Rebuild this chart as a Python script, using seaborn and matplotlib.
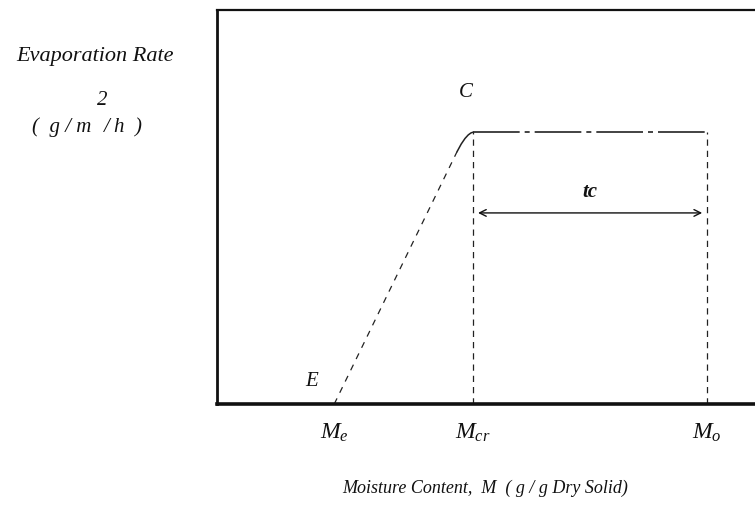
import matplotlib
matplotlib.use("Agg")
import matplotlib.pyplot as plt
import seaborn as sns
import pandas as pd

# Characteristic moisture contents (g/g dry solid), on a 0-1 schematic scale
moisture_marks = [0.218, 0.476, 0.911]
moisture_labels = [r"$M_e$", r"$M_{cr}$", r"$M_o$"]

# Falling-rate segment from E up to the critical point C (rounded knee)
falling_m = [0.218, 0.446, 0.454, 0.461, 0.467, 0.472, 0.476]
falling_rate = [0.0, 0.64, 0.66, 0.674, 0.683, 0.688, 0.69]

# Constant-rate period between M_cr and M_o
constant_m = [0.476, 0.911]
constant_rate = [0.69, 0.69]

arrow_level = 0.485

sns.set_theme(style="white")
plt.rcParams["font.family"] = ["Liberation Serif", "DejaVu Serif"]
plt.rcParams["mathtext.fontset"] = "custom"
plt.rcParams["mathtext.it"] = "Liberation Serif:italic"
plt.rcParams["mathtext.rm"] = "Liberation Serif"

fig = plt.figure(figsize=(7.55, 5.14), dpi=100)
ax = fig.add_axes([0.2874, 0.214, 0.7126, 0.7665])

falling = pd.DataFrame({"M": falling_m, "rate": falling_rate})
constant = pd.DataFrame({"M": constant_m, "rate": constant_rate})

sns.lineplot(data=falling.iloc[:2], x="M", y="rate", sort=False, ax=ax,
             color="#222222", lw=0.9, linestyle=(0, (5, 5)))
sns.lineplot(data=falling.iloc[1:], x="M", y="rate", sort=False, ax=ax,
             color="#222222", lw=1.1, linestyle="-")
sns.lineplot(data=constant, x="M", y="rate", sort=False, ax=ax,
             color="#222222", lw=1.2, linestyle=(0, (28, 3, 3, 3)))

# Vertical guides at M_cr and M_o
for m in moisture_marks[1:]:
    ax.plot([m, m], [0, constant_rate[0]], color="#222222", lw=0.9,
            linestyle=(0, (5, 4)))

# Duration of the constant-rate period
ax.annotate("", xy=(moisture_marks[2] - 0.004, arrow_level),
            xytext=(moisture_marks[1] + 0.004, arrow_level),
            arrowprops=dict(arrowstyle="<->", color="#111111", lw=1.0,
                            mutation_scale=12))
ax.text((moisture_marks[1] + moisture_marks[2]) / 2, arrow_level + 0.054,
        "tc", style="italic", weight="bold", fontsize=15, ha="center",
        va="center", color="#111111")

ax.text(0.463, 0.79, "C", style="italic", fontsize=15, ha="center",
        va="center", color="#111111")
ax.text(0.175, 0.057, "E", style="italic", fontsize=15, ha="center",
        va="center", color="#111111")

ax.set_xlim(0, 1)
ax.set_ylim(0, 1)
ax.set_xticks(moisture_marks)
ax.set_xticklabels(moisture_labels, fontsize=17, color="#111111")
ax.set_yticks([])
ax.tick_params(axis="x", length=0, pad=13)
ax.set_xlabel("")
ax.set_ylabel("")

for side in ("left", "top", "bottom"):
    ax.spines[side].set_visible(True)
    ax.spines[side].set_color("#111111")
ax.spines["left"].set_linewidth(2.0)
ax.spines["top"].set_linewidth(1.6)
ax.spines["bottom"].set_linewidth(2.6)
ax.spines["right"].set_visible(False)

fig.text(0.126, 0.891, "Evaporation Rate", style="italic", fontsize=16,
         ha="center", va="center", color="#111111")
# Rate unit with a full-size raised exponent
fig.text(0.1215, 0.752, "(  g / m", style="italic", fontsize=15,
         ha="right", va="center", color="#111111")
fig.text(0.1375, 0.752, "/ h  )", style="italic", fontsize=15,
         ha="left", va="center", color="#111111")
fig.text(0.135, 0.805, "2", style="italic", fontsize=15,
         ha="center", va="center", color="#111111")
fig.text(0.642, 0.049, "Moisture Content,  M  ( g / g Dry Solid)",
         style="italic", fontsize=13, ha="center", va="center",
         color="#111111")

fig.savefig("out.png", dpi=100)
